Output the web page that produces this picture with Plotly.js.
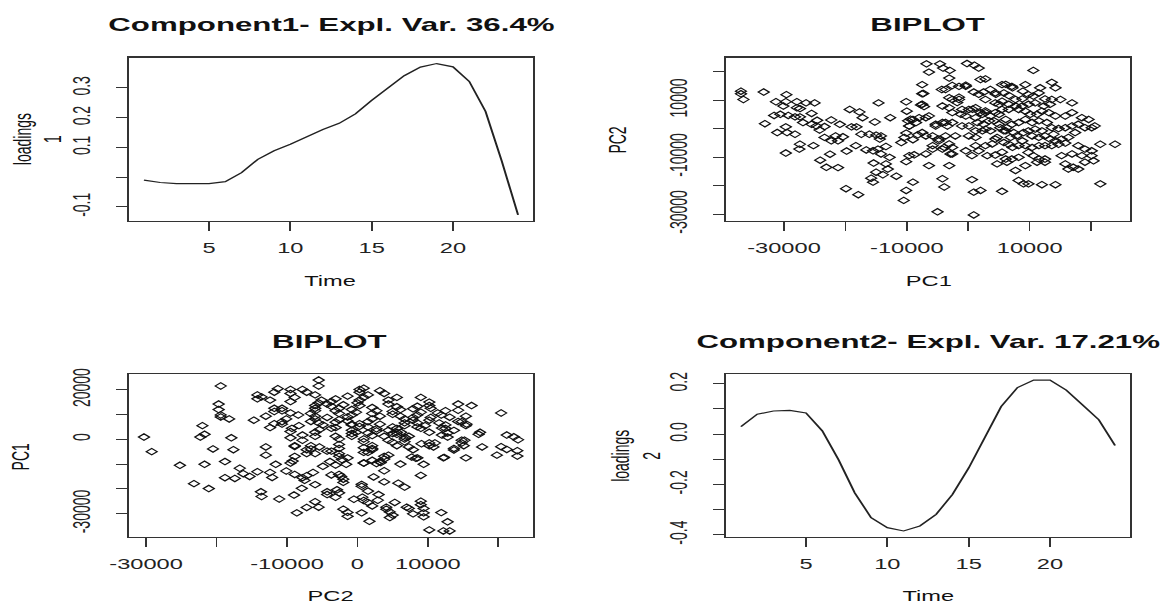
<!DOCTYPE html>
<html><head><meta charset="utf-8">
<script src="https://cdn.plot.ly/plotly-3.0.1.min.js"></script>
<style>
html,body{margin:0;padding:0;background:#fff;overflow:hidden;}
#wrap{width:1161px;height:603px;overflow:hidden;}
#plot{width:687px;height:603px;transform:scaleX(1.68996);transform-origin:0 0;}
</style></head><body><div id="wrap"><div id="plot"></div></div>
<script>
const time = [1,2,3,4,5,6,7,8,9,10,11,12,13,14,15,16,17,18,19,20,21,22,23,24];
const comp1Loadings = [-0.010,-0.018,-0.022,-0.022,-0.022,-0.015,0.015,0.060,0.089,0.111,0.137,0.160,0.181,0.213,0.258,0.300,0.341,0.370,0.382,0.371,0.322,0.221,0.054,-0.127];
const comp2Loadings = [0.030,0.079,0.092,0.094,0.084,0.013,-0.102,-0.234,-0.332,-0.372,-0.385,-0.365,-0.319,-0.240,-0.135,-0.016,0.110,0.185,0.215,0.215,0.175,0.116,0.057,-0.045];

const pc1 = [-37000,-37000,-36600,-33300,-29600,-31300,-29700,-27900,-26400,-25000,-30100,-27900,-27400,-31600,-30600,-29300,-28200,-27400,-25500,-24600,-22300,-24700,-23400,-24200,-33100,-29700,-31100,-29500,-28200,-26900,-25500,-20900,-19000,-18200,-19300,-17700,-17200,-14600,-12700,-15200,-15000,-14200,-10100,-10000,-17400,-16100,-14400,-23400,-22300,-21200,-20400,-21600,-27400,-27500,-25200,-29700,-22500,-24100,-23100,-21200,-19800,-18300,-16600,-15500,-14700,-14200,-13400,-12800,-15400,-13400,-13100,-15000,-15800,-15500,-13900,-11700,-10900,-10400,-9000,-8200,-10100,-9600,-9800,-9000,-8500,-9600,-10100,-8800,-9000,-10100,-10500,-19900,-17900,
-6800,-4600,-4100,-3000,-6400,-200,1700,10600,-3100,2000,-7500,-4300,-3700,-2600,-1500,-400,5500,7100,9300,11700,13600,14200,900,2500,3600,4400,5800,6600,7700,8800,9800,10600,11500,12500,13600,15000,16900,-2600,-1500,-7500,-4200,-3100,-1000,100,1200,2000,2800,3600,4400,5500,6600,7700,8200,9300,10100,11200,12000,13100,14200,15800,16900,18500,19600,20600,-6900,-5300,-4200,-3400,-2600,-1000,100,1500,2500,4200,6100,7100,8200,9300,10400,11500,12800,13600,14700,15800,16900,17900,19000,20100,-7500,-5800,-4800,-3700,-2100,100,1200,2300,3600,4700,5800,6900,7900,9000,10400,11500,12500,13900,15200,16300,17400,-5800,-3900,-2600,1200,2800,4400,5800,6600,8200,9300,10400,11500,12500,13600,14700,15800,17900,19000,20100,21500,23900,-6900,-2900,600,3100,4400,6100,7100,8200,9800,10600,11500,12500,15200,16900,18500,20100,-6400,-3100,4700,6300,7700,9300,11200,12500,15800,16300,17100,17900,19000,20400,-4200,-3900,600,2000,900,5500,8200,9000,9800,12000,14200,21500,-5000,900,
1000,2800,8900,-7300,-7200,-6900,4400,5500,6600,8800,9800,10900,12300,13300,5200,6300,9800,10900,12000,13300,14200,8800,
-7500,-7700,-3100,-1500,-1800,-400,1700,2800,4500,6100,7200,5000,-9400,-8000,-6400,-9600,-5300,-3700,-2600,-1200,-400,1200,2300,3400,5000,6100,7400,-4800,-3100,-5800,-4200,-2600,-400,1700,3900,5500,7200,1200,2800,700,2800,5000];
const pc2 = [13100,12200,10200,12800,11900,9400,9400,9400,9000,9000,7900,7300,7000,4600,5000,4600,4100,4100,5300,2900,3000,900,700,-500,1700,600,-1400,-1400,-2000,2100,1500,1500,600,600,6700,5800,3800,9000,3800,2300,-2300,-2600,9400,6100,-2000,-2000,-3700,-3100,-4300,-4300,-2900,-2600,-5500,-7200,-6000,-8600,-9000,-11100,-13600,-13700,-7900,-6000,-7500,-7800,-7200,-8900,-6300,-10100,-12100,-12400,-14200,-15300,-17400,-18800,-16200,-16700,-4900,-3100,-3900,-2200,-1600,900,2700,3200,2100,-9500,-11600,-9200,-18800,-21700,-25200,-21100,-23200,
22700,22700,21200,20400,19800,22800,21200,20400,17700,17200,15400,13700,13700,15100,14800,14800,15400,14800,15400,14300,16200,14300,12800,12800,13700,12500,12500,11600,10200,10400,11900,11400,12500,10400,10200,10200,9000,10200,10200,8500,7900,7300,6700,6700,7300,5600,5600,4400,5600,6700,6700,7900,6700,6100,5000,5000,6100,5600,4400,4400,5600,3800,3200,900,3800,900,2100,900,2100,900,900,2100,1500,2700,3200,1500,2100,3200,2100,2700,2100,300,0,300,900,1500,300,300,-1400,-2600,-3700,-2600,-2600,-2600,-3100,-800,-800,-3100,-800,-3100,-2600,-1400,-2600,-3100,-2600,-2000,-3700,-3100,-1400,-6000,-6600,-6600,-6000,-6000,-3700,-4900,-5500,-6000,-6000,-6600,-6000,-6000,-6000,-5500,-5100,-6000,-7200,-7800,-5500,-5500,-8900,-8900,-9500,-9500,-9300,-10700,-10700,-10100,-8400,-9500,-10700,-10700,-9500,-8900,-9500,-9500,-13000,-13000,-12400,-11800,-14700,-13000,-11800,-11800,-12400,-14200,-13600,-14200,-11800,-11300,-17600,-20500,-17900,-21700,-22300,-22000,-18200,-19400,-19400,-19700,-19700,-19400,-29200,-30300,
22200,17400,13100,12300,7700,-2600,9000,9600,8500,7900,8500,9000,7900,8500,300,300,-800,-200,-800,-3700,-4300,-4300,
12200,8300,10800,11000,9100,15200,12000,10200,12000,15500,14300,8500,3300,3800,4400,900,1500,2100,5600,5000,4400,3800,5000,2700,1500,-800,-1400,-4300,-5400,-7200,-7200,-8900,-7800,-7800,-5400,-8300,-6600,-800,-200,6800,6200,5000];

const compTicks = [5,10,15,20];
const comp1Ticks = [-0.1,0,0.1,0.2,0.3];
const comp1TickText = ['-0.1','','0.1','0.2','0.3'];
const comp2Ticks = [-0.4,-0.3,-0.2,-0.1,0,0.1,0.2];
const comp2TickText = ['-0.4','','-0.2','','0.0','','0.2'];
const pcTicks = [-30000,-20000,-10000,0,10000,20000];
const pcTextA = ['-30000','','-10000','','10000',''];
const pcTextBx = ['-30000','','-10000','0','10000',''];
const pcTextBy = ['-30000','','','0','','20000'];

function pad(arr){const mn=Math.min(...arr),mx=Math.max(...arr),d=(mx-mn)*0.04;return [mn-d,mx+d];}

const FONT = 'Liberation Sans, Arial, sans-serif';
const INK = '#222';

function axis(domain, anchor, range, vals, text, isY){
  return {domain:domain, anchor:anchor, range:range, tickmode:'array', tickvals:vals, ticktext:text,
    showgrid:false, zeroline:false, showline:true, mirror:true, linecolor:'#333', linewidth:1.2,
    ticks:'outside', ticklen:isY?6.5:9, tickwidth:1, tickcolor:'#333',
    tickangle:isY?-90:0, ticklabelstandoff:isY?10:5,
    tickfont:{family:FONT,size:14,color:INK}, fixedrange:true};
}

const xL=[129/1161,533/1161], xR=[726/1161,1130/1161];
const yT=[1-221/603,1-57.5/603], yB=[1-537/603,1-374/603];

const mk = {symbol:'diamond-open',size:5,color:'#111',line:{width:1}};
const traces = [
  {x:time, y:comp1Loadings, type:'scatter', mode:'lines', xaxis:'x', yaxis:'y', line:{color:INK,width:1.2}},
  {x:pc1, y:pc2, type:'scatter', mode:'markers', xaxis:'x2', yaxis:'y2', marker:mk},
  {x:pc2, y:pc1, type:'scatter', mode:'markers', xaxis:'x3', yaxis:'y3', marker:mk},
  {x:time, y:comp2Loadings, type:'scatter', mode:'lines', xaxis:'x4', yaxis:'y4', line:{color:INK,width:1.2}}
];

function ann(text,x,y,size,bold,angle){
  return {text:text, x:x, y:y, xref:'paper', yref:'paper', xanchor:'center', yanchor:'middle', showarrow:false,
    textangle:angle||0, font:{family:FONT,size:size,color:'#111',weight:bold?700:400}};
}

const layout = {
  width:687, height:603, margin:{l:0,r:0,t:0,b:0}, showlegend:false,
  paper_bgcolor:'#fff', plot_bgcolor:'#fff',
  xaxis: axis(xL,'y',pad(time),compTicks,['5','10','15','20'],false),
  yaxis: axis(yT,'x',pad(comp1Loadings),comp1Ticks,comp1TickText,true),
  xaxis2: axis(xR,'y2',pad(pc1),pcTicks,pcTextA,false),
  yaxis2: axis(yT,'x2',pad(pc2),pcTicks,pcTextA,true),
  xaxis3: axis(xL,'y3',pad(pc2),pcTicks,pcTextBx,false),
  yaxis3: axis(yB,'x3',pad(pc1),pcTicks,pcTextBy,true),
  xaxis4: axis(xR,'y4',pad(time),compTicks,['5','10','15','20'],false),
  yaxis4: axis(yB,'x4',pad(comp2Loadings),comp2Ticks,comp2TickText,true),
  annotations:[
    ann('Component1- Expl. Var. 36.4%',331/1161,1-24/603,18.5,true),
    ann('BIPLOT',928/1161,1-24/603,18.5,true),
    ann('BIPLOT',331/1161,1-341.7/603,18.5,true),
    ann('Component2- Expl. Var. 17.21%',928/1161,1-341.7/603,18.5,true),
    ann('Time',331/1161,1-280.5/603,14,false),
    ann('PC1',928/1161,1-280.5/603,14,false),
    ann('PC2',331/1161,1-596/603,14,false),
    ann('Time',928/1161,1-596/603,14,false),
    ann('loadings<br>1',37.5/1161,1-139/603,14,false,-90),
    ann('PC2',617.8/1161,1-140/603,14,false,-90),
    ann('PC1',21/1161,1-457/603,14,false,-90),
    ann('loadings<br>2',635.5/1161,1-455.8/603,14,false,-90)
  ]
};

Plotly.newPlot('plot', traces, layout, {displayModeBar:false, staticPlot:true});
</script></body></html>
